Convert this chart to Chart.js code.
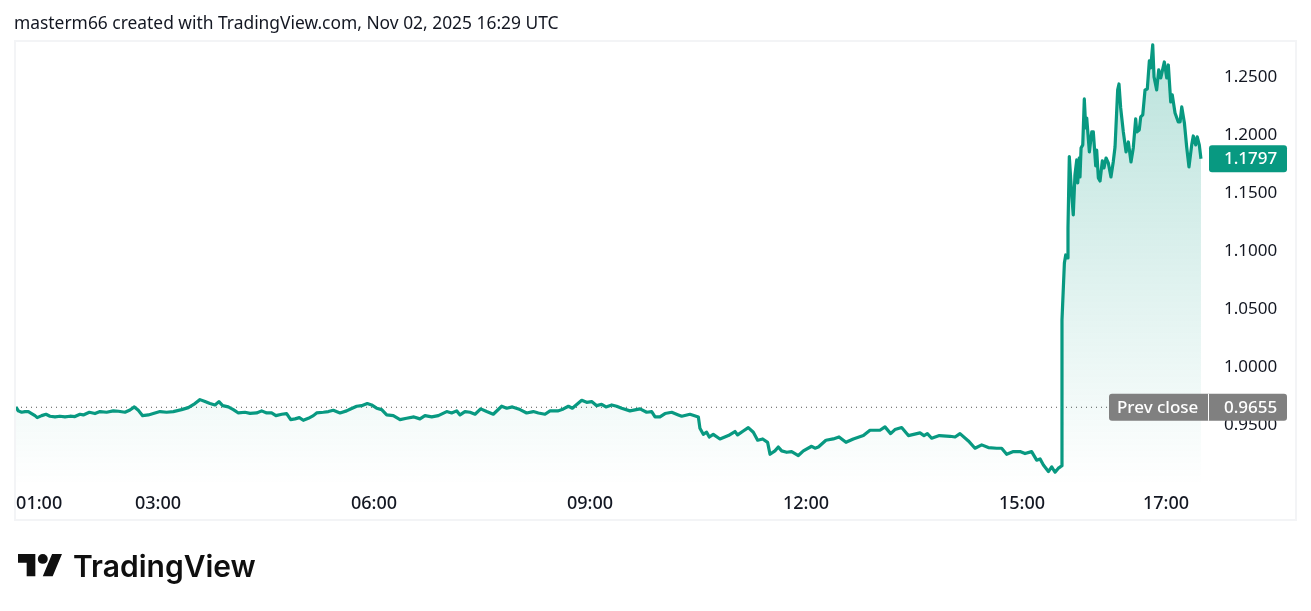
<!DOCTYPE html>
<html>
<head>
<meta charset="utf-8">
<title>TradingView chart</title>
<script src="https://cdn.jsdelivr.net/npm/chart.js@4"></script>
<style>
  html, body { margin: 0; background: #fff; }
  #wrap { position: relative; width: 1311px; height: 611px; overflow: hidden; }
  #pie-chart { position: absolute; left: 0; top: 0; }
  #titulo { position: absolute; left: 14px; top: 10px; font: 17.4px "Noto Sans", sans-serif; color: #131722; white-space: nowrap; }
  #logo { position: absolute; left: 18px; top: 549px; }
  #marca { position: absolute; left: 73px; top: 548px; font: 600 30px Inter, sans-serif; color: #0f0f0f; white-space: nowrap; }
</style>
</head>
<body>
<div id="wrap">
  <canvas id="pie-chart" width="1311" height="611"></canvas>
  <div id="titulo">masterm66 created with TradingView.com, Nov 02, 2025 16:29 UTC</div>
  <svg id="logo" width="44.6" height="34.7" viewBox="0 0 36 28" fill="#0f0f0f"><path d="M14 22H7V11H0V4h14v18zM28 22h-8l7.5-18h8L28 22z"/><circle cx="20" cy="8" r="4"/></svg>
  <div id="marca">TradingView</div>
</div>
<script>
// minutes since 00:00
var minutes = [
  61.7,63.6,66.4,69.2,72,74.7,77.5,79.4,83.1,86.7,90,94.2,98.3,102.5,106.7,110.8,115,117.8,122.8,127.5,
  131.7,137.2,142.8,147,152.5,156.7,160.3,163.6,167.2,172,176.1,181.7,187.2,192.8,199.7,205.3,210.8,215,219.2,223.3,
  227.5,230.8,233.9,238.6,242.8,247,252.5,256.7,262.2,266.4,270.6,274.7,278.3,283.1,287.2,290.6,294.2,297.8,301.1,305.3,
  309.5,312.2,317.8,322,326.1,331.7,337.2,340,345.6,349.7,354.4,358,362.2,366.4,370.6,376.1,381.7,387.2,393.3,398.3,
  402.5,408.1,413.6,420.6,424.7,428.9,431.7,435.8,440,444.2,448.9,453.9,459.4,466.4,470.6,475.3,481.7,487.2,492.8,497,
  502.5,506.7,513.6,517.8,522,525.3,533.1,537.2,541.4,545.6,549.7,553.3,558.1,562.2,566.4,573.3,581.7,587.2,591.4,594.2,
  598.3,602.5,608.1,613.6,616.4,623.3,630.3,631.6,634.4,637.2,639.4,642.7,648.3,655.3,660.8,663,667.7,671.9,676.1,679.7,
  683.9,688,690,694.1,696.9,699.7,703.9,708,713.6,717.8,724.7,727.5,730.3,736.6,742.7,747.5,753.3,759.4,767.8,773.3,
  781.6,785.8,790.5,794.1,799.7,805.3,815,818.3,821.1,824.7,831.1,840,844.2,848.3,855.3,860.8,866.4,871.9,878.9,883,
  887.2,892.8,898.3,902.5,908,912.2,915,917.8,922,924.7,927.5,930.3,932,932.6,933.3,935.3,936.4,937.5,938.3,939.4,
  941.4,942.7,944.1,945.6,946.4,947.7,948.3,949.2,950.6,951.9,953.1,953.9,956.1,958.1,959.4,961.4,962.2,963.6,965,966.9,
  968.3,970,971.9,974.1,976,977.5,979.7,980.8,982.2,984.4,986.7,988.6,990.8,992.7,994.7,995.6,997.7,998.9,1000.6,1002.5,
  1004.4,1006.1,1007.2,1008.9,1010,1012.2,1013.9,1015.6,1018.6,1020.6,1021.9,1023.9,1025.2,1027.5,1030.2,1031.7,1033.1,1035.3,1037.2,1039.1,
  1041.4,1042.7,1044.7,1046,1047.7,1049.1
];
var precios = [
  .9658,.9624,.9612,.9618,.9618,.9601,.9583,.9566,.9583,.9595,.9578,.9572,.9578,.9572,.9578,.9575,.9595,.9589,.9612,.9601,
  .9618,.9612,.9624,.9621,.9612,.9632,.9658,.9629,.9583,.9589,.9601,.9618,.9612,.9618,.9635,.9652,.9687,.9721,.9704,.9687,
  .9675,.9704,.9669,.9658,.9635,.9606,.9612,.9603,.9606,.9624,.9606,.9606,.9583,.9595,.9601,.9549,.9555,.9566,.9543,.9560,
  .9583,.9606,.9612,.9618,.9629,.9606,.9624,.9638,.9664,.9669,.9687,.9675,.9647,.9635,.9589,.9583,.9549,.9560,.9572,.9555,
  .9583,.9572,.9583,.9618,.9606,.9624,.9589,.9618,.9612,.9595,.9641,.9618,.9595,.9664,.9647,.9658,.9635,.9606,.9618,.9606,
  .9595,.9624,.9624,.9641,.9664,.9647,.9715,.9698,.9704,.9669,.9681,.9658,.9675,.9664,.9647,.9624,.9641,.9612,.9618,.9572,
  .9572,.9601,.9612,.9589,.9578,.9595,.9572,.9474,.9422,.9440,.9399,.9422,.9382,.9411,.9446,.9417,.9451,.9480,.9440,.9371,
  .9382,.9353,.9250,.9279,.9313,.9279,.9267,.9273,.9239,.9279,.9319,.9302,.9313,.9371,.9382,.9399,.9353,.9382,.9411,.9457,
  .9457,.9486,.9428,.9463,.9480,.9411,.9434,.9411,.9428,.9388,.9411,.9405,.9399,.9428,.9365,.9302,.9331,.9308,.9302,.9302,
  .9250,.9273,.9273,.9256,.9273,.9199,.9210,.9158,.9101,.9141,.9095,.9130,.9141,.9150,1.0408,1.0899,1.0968,1.0942,1.1201,1.1816,
  1.1486,1.1313,1.1658,1.1787,1.1589,1.1805,1.1641,1.1891,1.1917,1.2313,1.2063,1.2149,1.1856,1.2029,1.2029,1.1736,1.1873,1.1632,1.1606,1.1779,
  1.1718,1.1804,1.1761,1.1641,1.1770,1.1899,1.2391,1.2442,1.2236,1.2029,1.1856,1.1942,1.1770,1.1891,1.2141,1.2029,1.2046,1.2158,1.2175,1.2391,
  1.2399,1.2641,1.2580,1.2779,1.2503,1.2391,1.2563,1.2494,1.2632,1.2494,1.2606,1.2287,1.2348,1.2192,1.2115,1.2115,1.2244,1.2106,1.1899,1.1727,
  1.1917,1.1994,1.1917,1.1986,1.1917,1.1797
];
var tiempoTicks = [81, 180, 360, 540, 720, 900, 1020];
var tiempoLabels = ['01:00', '03:00', '06:00', '09:00', '12:00', '15:00', '17:00'];
var precioTicks = [1.25, 1.2, 1.15, 1.1, 1.05, 1, 0.95];
var ultimoPrecio = 1.1797;
var cierrePrevio = 0.9655;
var cierreX = [61.7, 972.5];
var cierreY = [cierrePrevio, cierrePrevio];

var verde = '#089981';
var fuente = '"Noto Sans", sans-serif';

function caja(ctx, x, y, w, h, r, color) {
  ctx.fillStyle = color;
  ctx.beginPath();
  ctx.roundRect(x, y, w, h, r);
  ctx.fill();
}

// marco del panel y etiquetas de precio
var etiquetas = {
  id: 'etiquetas',
  beforeDraw: function (chart) {
    var ctx = chart.ctx;
    ctx.save();
    ctx.strokeStyle = '#f3f4f6';
    ctx.lineWidth = 2;
    ctx.strokeRect(15, 41, 1281, 479);
    ctx.restore();
  },
  afterDraw: function (chart) {
    var ctx = chart.ctx;
    var esc = chart.scales.y;
    var yPrev = esc.getPixelForValue(cierrePrevio);
    var yLast = esc.getPixelForValue(ultimoPrecio);
    ctx.save();
    ctx.font = '500 17px ' + fuente;
    ctx.textBaseline = 'middle';
    ctx.textAlign = 'left';

    caja(ctx, 1109, yPrev - 13.5, 178, 27, 3, '#808080');
    ctx.fillStyle = '#fff';
    ctx.fillRect(1208, yPrev - 13.5, 1, 27);
    ctx.fillText('Prev close', 1117, yPrev + 0.5);
    ctx.fillText(cierrePrevio.toFixed(4), 1224, yPrev + 0.5);

    caja(ctx, 1209, yLast - 13.5, 78, 27, 3, verde);
    ctx.fillStyle = '#fff';
    ctx.fillText(ultimoPrecio.toFixed(4), 1224, yLast + 0.5);
    ctx.restore();
  }
};

var ctx = document.getElementById('pie-chart');
var grafica = new Chart(ctx, {
  type: 'line',
  plugins: [etiquetas],
  data: {
    datasets: [
      {
        data: minutes.map(function (m, i) { return { x: m, y: precios[i] }; }),
        borderColor: verde,
        borderWidth: 3.2,
        borderJoinStyle: 'round',
        pointRadius: 0,
        tension: 0,
        fill: 'start',
        backgroundColor: function (c) {
          var g = c.chart.ctx.createLinearGradient(0, 45, 0, 485);
          g.addColorStop(0, 'rgba(8,153,129,0.28)');
          g.addColorStop(1, 'rgba(8,153,129,0)');
          return g;
        }
      },
      {
        data: cierreX.map(function (m, i) { return { x: m, y: cierreY[i] }; }),
        borderColor: '#555',
        borderWidth: 1,
        borderDash: [1, 4],
        pointRadius: 0,
        fill: false
      }
    ]
  },
  options: {
    responsive: false,
    animation: false,
    events: [],
    layout: { autoPadding: false, padding: { left: 16, top: 42, right: 15, bottom: 91 } },
    plugins: { legend: { display: false }, tooltip: { enabled: false } },
    scales: {
      x: {
        type: 'linear',
        min: 61.7,
        max: 1055.8,
        grid: { display: false },
        border: { display: false },
        afterFit: function (s) { s.height = 35; },
        afterBuildTicks: function (s) { s.ticks = tiempoTicks.map(function (v) { return { value: v }; }); },
        ticks: {
          autoSkip: false,
          maxRotation: 0,
          padding: 0,
          color: '#131722',
          font: { family: fuente, size: 18, weight: '500' },
          callback: function (v, i) { return tiempoLabels[i]; }
        }
      },
      y: {
        position: 'right',
        min: 0.8985,
        max: 1.2804,
        grid: { display: false },
        border: { display: false },
        afterFit: function (s) { s.width = 87; },
        afterBuildTicks: function (s) { s.ticks = precioTicks.map(function (v) { return { value: v }; }); },
        ticks: {
          padding: 7,
          color: '#131722',
          font: { family: fuente, size: 17 },
          callback: function (v) { return v.toFixed(4); }
        }
      }
    }
  }
});
</script>
</body>
</html>
